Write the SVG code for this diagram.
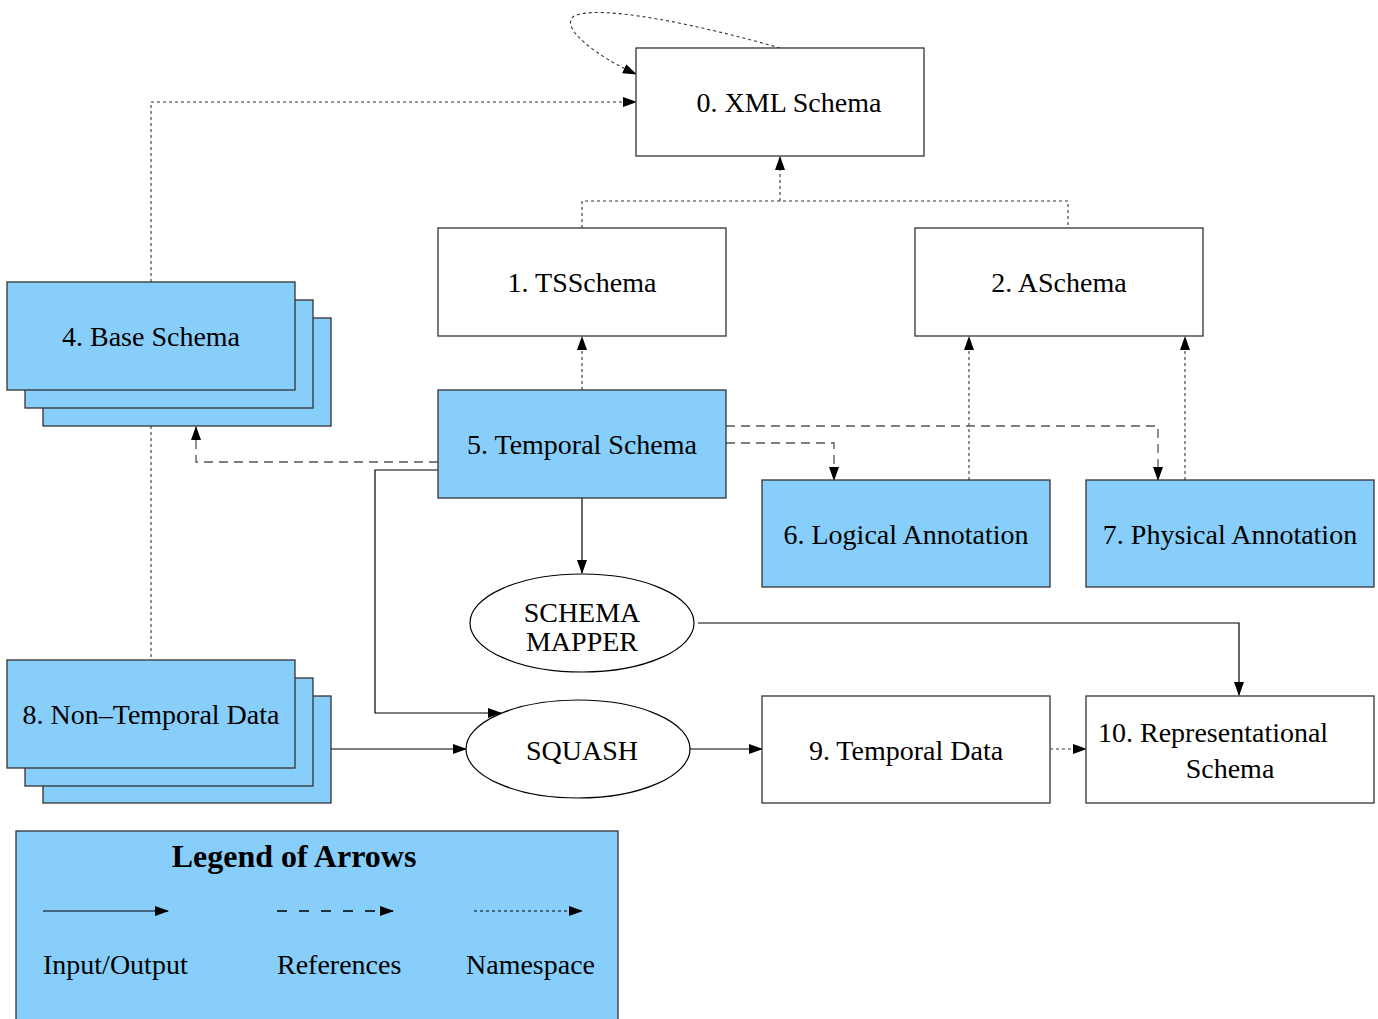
<svg xmlns="http://www.w3.org/2000/svg" width="1378" height="1019" viewBox="0 0 1378 1019">
<style>
text{font-family:"Liberation Serif","Times New Roman",serif;font-size:28px;fill:#000;}
.c{text-anchor:middle;}
.w{fill:#fff;stroke:#333;stroke-width:1.3;}
.b{fill:#87cefa;stroke:#333;stroke-width:1.3;}
.e{fill:#fff;stroke:#000;stroke-width:1.2;}
.s{fill:none;stroke:#000;stroke-width:1.2;}
.d{fill:none;stroke:#555;stroke-width:1.3;stroke-dasharray:9,6;}
.n{fill:none;stroke:#333;stroke-width:1.1;stroke-dasharray:3,3;}
</style>
<defs>
<marker id="a" markerUnits="userSpaceOnUse" markerWidth="14" markerHeight="10" refX="13" refY="5" orient="auto">
<path d="M0,0 L14,5 L0,10 z" fill="#000"/>
</marker>
</defs>
<rect width="1378" height="1019" fill="#fff"/>
<g id="connectors">
<path class="n" d="M780,48 C700,25 600,4 574,16 C558,28 600,58 636,74" marker-end="url(#a)"/>
<path class="n" d="M151,282 V102 H636" marker-end="url(#a)"/>
<path class="n" d="M582,228 V201 H1068 V228"/>
<path class="n" d="M780,201 V157" marker-end="url(#a)"/>
<path class="n" d="M582,390 V337" marker-end="url(#a)"/>
<path class="n" d="M969,480 V337" marker-end="url(#a)"/>
<path class="n" d="M1185,480 V337" marker-end="url(#a)"/>
<path class="n" d="M151,426 V660"/>
<path class="d" d="M726,426 H1158 V480" marker-end="url(#a)"/>
<path class="d" d="M726,443 H834 V480" marker-end="url(#a)"/>
<path class="d" d="M438,462 H196 V427" marker-end="url(#a)"/>
<path class="s" d="M582,498 V573" marker-end="url(#a)"/>
<path class="s" d="M438,470 H375 V713 H501" marker-end="url(#a)"/>
<path class="s" d="M331,749 H466" marker-end="url(#a)"/>
<path class="s" d="M698,623 H1239 V695" marker-end="url(#a)"/>
<path class="s" d="M690,749 H762" marker-end="url(#a)"/>
<path class="n" d="M1050,749 H1086" marker-end="url(#a)"/>
</g>
<g id="n0"><rect class="w" x="636" y="48" width="288" height="108"/><text class="c" x="789" y="112">0. XML Schema</text></g>
<g id="n1"><rect class="w" x="438" y="228" width="288" height="108"/><text class="c" x="582" y="292">1. TSSchema</text></g>
<g id="n2"><rect class="w" x="915" y="228" width="288" height="108"/><text class="c" x="1059" y="292">2. ASchema</text></g>
<g id="n4"><rect class="b" x="43" y="318" width="288" height="108"/><rect class="b" x="25" y="300" width="288" height="108"/><rect class="b" x="7" y="282" width="288" height="108"/><text class="c" x="151" y="346">4. Base Schema</text></g>
<g id="n5"><rect class="b" x="438" y="390" width="288" height="108"/><text class="c" x="582" y="454">5. Temporal Schema</text></g>
<g id="n6"><rect class="b" x="762" y="480" width="288" height="107"/><text class="c" x="906" y="544">6. Logical Annotation</text></g>
<g id="n7"><rect class="b" x="1086" y="480" width="288" height="107"/><text class="c" x="1230" y="544">7. Physical Annotation</text></g>
<g id="mapper"><ellipse class="e" cx="582" cy="623" rx="112" ry="49"/><text class="c" x="582" y="622">SCHEMA</text><text class="c" x="582" y="651">MAPPER</text></g>
<g id="n8"><rect class="b" x="43" y="696" width="288" height="107"/><rect class="b" x="25" y="678" width="288" height="108"/><rect class="b" x="7" y="660" width="288" height="108"/><text class="c" x="151" y="724">8. Non–Temporal Data</text></g>
<g id="squash"><ellipse class="e" cx="578" cy="749" rx="112" ry="49"/><text class="c" x="582" y="760">SQUASH</text></g>
<g id="n9"><rect class="w" x="762" y="696" width="288" height="107"/><text class="c" x="906" y="760">9. Temporal Data</text></g>
<g id="n10"><rect class="w" x="1086" y="696" width="288" height="107"/><text x="1098" y="742">10. Representational</text><text class="c" x="1230" y="778">Schema</text></g>
<g id="legend">
<rect class="b" x="16" y="831" width="602" height="200"/>
<text class="c" x="294" y="867" style="font-weight:bold;font-size:32px">Legend of Arrows</text>
<path class="s" d="M43,911 H168" marker-end="url(#a)"/>
<path class="d" d="M277,911 H393" style="stroke:#000;stroke-dasharray:10,12" marker-end="url(#a)"/>
<path class="n" d="M474,911 H582" style="stroke:#000" marker-end="url(#a)"/>
<text x="43" y="974">Input/Output</text>
<text x="277" y="974">References</text>
<text x="466" y="974">Namespace</text>
</g>
</svg>
